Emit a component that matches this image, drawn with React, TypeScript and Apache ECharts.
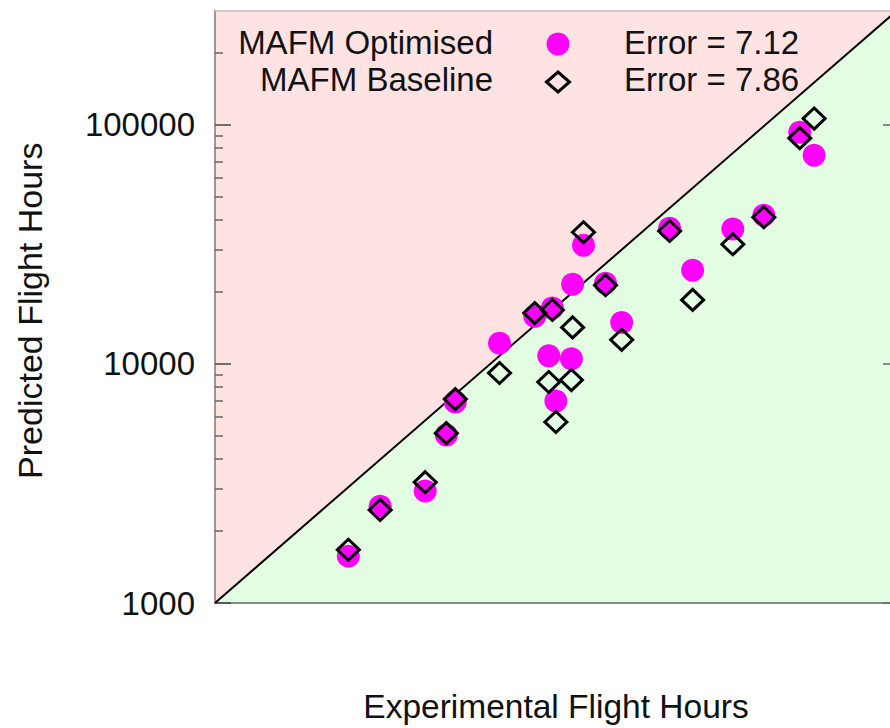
import React, { useEffect, useRef } from "react";
import * as echarts from "echarts";

const experimental = [3050, 3980, 5800, 6920, 7460, 10800, 14500, 16300, 16800, 17300, 19900, 19700, 21800, 26200, 30000, 44800, 54300, 76000, 98500, 133000, 150000];
const optimised = [1570, 2540, 2940, 5040, 6920, 12200, 15800, 10800, 17100, 6990, 21500, 10500, 31300, 21700, 14900, 36900, 24600, 36600, 41800, 92900, 74500];
const baseline = [1670, 2450, 3200, 5130, 7120, 9150, 16300, 8390, 16800, 5710, 14200, 8550, 35500, 21300, 12600, 35900, 18500, 31600, 41000, 87800, 106000];

const axisMin = 1000;
const axisMax = 300000;
const majorTicks = [1000, 10000, 100000];
const minorTicks = [2000, 3000, 4000, 5000, 6000, 7000, 8000, 9000, 20000, 30000, 40000, 50000, 60000, 70000, 80000, 90000, 200000];
const seriesNames = ["MAFM Optimised", "MAFM Baseline"];
const errorValues = [7.12, 7.86];

const FONT = '"Liberation Sans", Arial, Helvetica, sans-serif';
const PINK = "#ffe3e3";
const GREEN = "#e3fde3";
const MAGENTA = "#ff00ff";

const CHART_W = 910;
const CHART_H = 728;

export default function App() {
  const ref = useRef<HTMLDivElement>(null);

  useEffect(() => {
    if (!ref.current) return;
    const chart = echarts.init(ref.current, undefined, { renderer: "svg" });

    const gridBox = { left: 215, right: CHART_W - 897, top: 10.5, bottom: 125 };
    const optData = experimental.map((x, i) => [x, optimised[i]]);
    const baseData = experimental.map((x, i) => [x, baseline[i]]);

    const legendX = 493;
    const iconX = 558;
    const errX = 624;
    const rowY = [43, 81];

    const textStyleBase = {
      fontSize: 33,
      fontFamily: FONT,
      fill: "#111",
      textVerticalAlign: "middle",
    };

    const option: any = {
      animation: false,
      backgroundColor: "#ffffff",
      textStyle: { fontFamily: FONT },
      grid: [
        { ...gridBox, containLabel: false },
        { ...gridBox, containLabel: false },
      ],
      xAxis: [
        {
          type: "log",
          gridIndex: 0,
          min: axisMin,
          max: axisMax,
          position: "bottom",
          name: "Experimental Flight Hours",
          nameLocation: "middle",
          nameGap: 86,
          nameTextStyle: { fontSize: 33.5, color: "#111", fontFamily: FONT },
          axisLine: { show: true, onZero: false, lineStyle: { color: "#8a8a8a", width: 2 } },
          axisTick: { show: false },
          axisLabel: { show: false },
          splitLine: { show: false },
        },
        {
          type: "log",
          gridIndex: 0,
          min: axisMin,
          max: axisMax,
          position: "top",
          axisLine: { show: true, onZero: false, lineStyle: { color: "#cdbcbc", width: 1.5 } },
          axisTick: { show: false },
          axisLabel: { show: false },
          splitLine: { show: false },
        },
        {
          type: "log",
          gridIndex: 1,
          min: axisMin,
          max: axisMax,
          show: false,
        },
      ],
      yAxis: [
        {
          type: "log",
          gridIndex: 0,
          min: axisMin,
          max: axisMax,
          position: "left",
          name: "Predicted Flight Hours",
          nameLocation: "middle",
          nameGap: 168,
          nameTextStyle: { fontSize: 34, color: "#111", fontFamily: FONT, padding: [0, 0, 0, -8] },
          axisLine: { show: true, onZero: false, lineStyle: { color: "#a39393", width: 2 } },
          axisTick: {
            show: true,
            inside: true,
            length: 16,
            customValues: majorTicks,
            lineStyle: { color: "#444", width: 1.5 },
          },
          axisLabel: {
            show: true,
            customValues: majorTicks,
            formatter: (v: number) => String(Math.round(v)),
            fontSize: 33,
            color: "#111",
            margin: 20,
            fontFamily: FONT,
          },
          splitLine: { show: false },
        },
        {
          type: "log",
          gridIndex: 0,
          min: axisMin,
          max: axisMax,
          position: "right",
          axisLine: { show: true, onZero: false, lineStyle: { color: "#b0a0a0", width: 1.5 } },
          axisTick: {
            show: true,
            inside: true,
            length: 14,
            customValues: majorTicks,
            lineStyle: { color: "#666", width: 1.5 },
          },
          axisLabel: { show: false },
          splitLine: { show: false },
        },
        {
          type: "log",
          gridIndex: 1,
          min: axisMin,
          max: axisMax,
          position: "left",
          axisLine: { show: false },
          axisTick: {
            show: true,
            inside: true,
            length: 8,
            customValues: minorTicks,
            lineStyle: { color: "#666", width: 1.5 },
          },
          axisLabel: { show: false },
          splitLine: { show: false },
        },
      ],
      series: [
        {
          type: "custom",
          xAxisIndex: 0,
          yAxisIndex: 0,
          silent: true,
          z: 0,
          data: [[axisMin, axisMin]],
          renderItem: (_params: any, api: any) => {
            const bl = api.coord([axisMin, axisMin]);
            const tl = api.coord([axisMin, axisMax]);
            const tr = api.coord([axisMax, axisMax]);
            const br = api.coord([axisMax, axisMin]);
            return {
              type: "group",
              children: [
                { type: "polygon", shape: { points: [bl, tl, tr] }, style: { fill: PINK } },
                { type: "polygon", shape: { points: [bl, br, tr] }, style: { fill: GREEN } },
              ],
            };
          },
        },
        {
          type: "line",
          xAxisIndex: 0,
          yAxisIndex: 0,
          silent: true,
          z: 1,
          symbol: "none",
          data: [
            [axisMin, axisMin],
            [axisMax, axisMax],
          ],
          lineStyle: { color: "#000", width: 2 },
        },
        {
          type: "scatter",
          name: seriesNames[0],
          xAxisIndex: 0,
          yAxisIndex: 0,
          z: 2,
          symbol: "circle",
          symbolSize: 23,
          itemStyle: { color: MAGENTA, opacity: 1 },
          data: optData,
        },
        {
          type: "scatter",
          name: seriesNames[1],
          xAxisIndex: 0,
          yAxisIndex: 0,
          z: 3,
          symbol: "diamond",
          symbolSize: [22, 21],
          itemStyle: { color: "none", borderColor: "#000", borderWidth: 3, opacity: 1 },
          data: baseData,
        },
      ],
      graphic: [
        {
          type: "text",
          x: legendX,
          y: rowY[0] - 1,
          z: 10,
          style: { ...textStyleBase, text: seriesNames[0], textAlign: "right" },
        },
        {
          type: "text",
          x: legendX,
          y: rowY[1] - 2,
          z: 10,
          style: { ...textStyleBase, text: seriesNames[1], textAlign: "right" },
        },
        {
          type: "circle",
          z: 10,
          shape: { cx: iconX, cy: rowY[0] + 1, r: 11.5 },
          style: { fill: MAGENTA },
        },
        {
          type: "polygon",
          z: 10,
          shape: {
            points: [
              [iconX - 11.5, rowY[1] + 1],
              [iconX, rowY[1] + 1 - 10],
              [iconX + 11.5, rowY[1] + 1],
              [iconX, rowY[1] + 1 + 10],
            ],
          },
          style: { fill: "none", stroke: "#000", lineWidth: 3 },
        },
        {
          type: "text",
          x: errX,
          y: rowY[0] - 1,
          z: 10,
          style: { ...textStyleBase, text: "Error = " + errorValues[0].toFixed(2), textAlign: "left" },
        },
        {
          type: "text",
          x: errX,
          y: rowY[1] - 2,
          z: 10,
          style: { ...textStyleBase, text: "Error = " + errorValues[1].toFixed(2), textAlign: "left" },
        },
      ],
    };

    chart.setOption(option);
    return () => {
      chart.dispose();
    };
  }, []);

  return (
    <div style={{ position: "absolute", left: 0, top: 0, width: 890, height: 728, overflow: "hidden" }}>
      <div ref={ref} style={{ width: CHART_W, height: CHART_H }} />
    </div>
  );
}
